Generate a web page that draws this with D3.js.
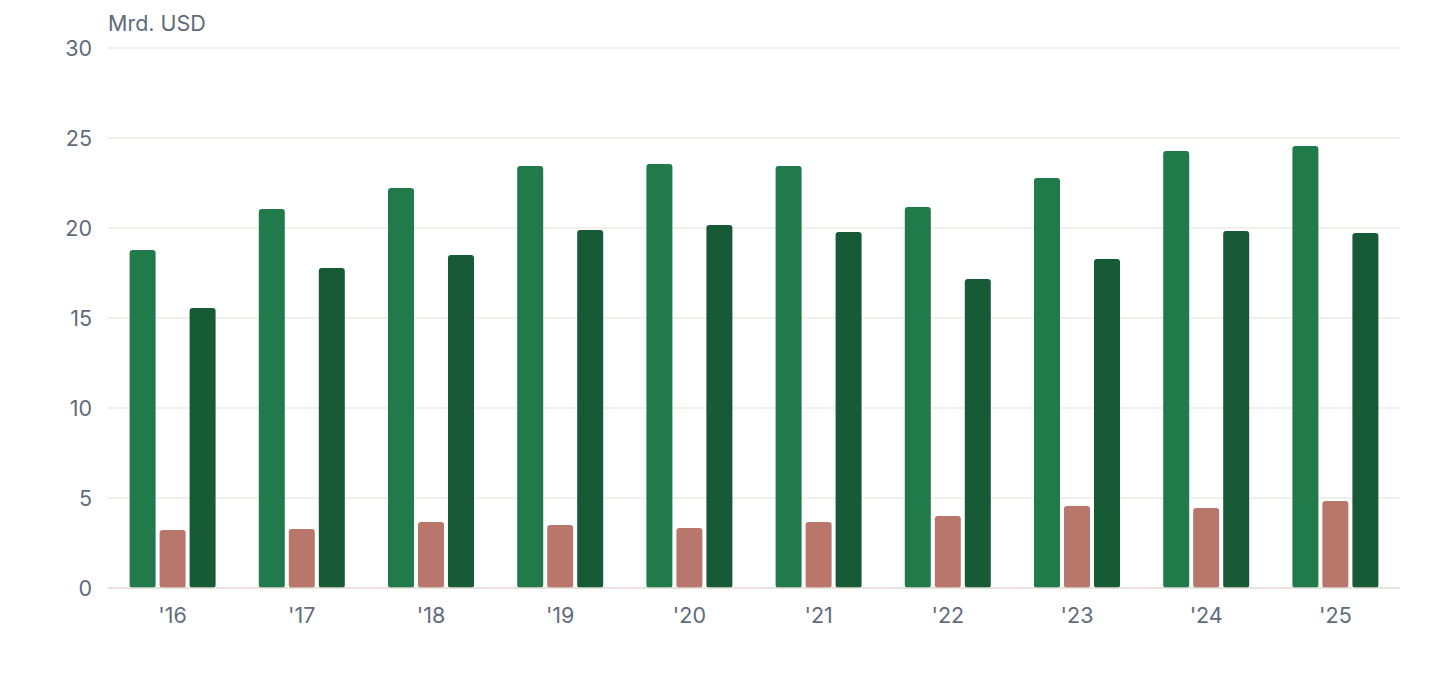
<!DOCTYPE html>
<html>
<head>
<meta charset="utf-8">
<script src="https://cdn.jsdelivr.net/npm/d3@7"></script>
<style>
  html, body { margin: 0; padding: 0; background: #fff; }
  svg text { font-family: Inter, "Noto Sans", sans-serif; }
</style>
</head>
<body>
<svg id="chart"></svg>
<script>
const years = ["'16", "'17", "'18", "'19", "'20", "'21", "'22", "'23", "'24", "'25"];
const seriesA = [18.78, 21.06, 22.22, 23.44, 23.56, 23.44, 21.17, 22.78, 24.28, 24.56];
const seriesB = [3.22, 3.28, 3.67, 3.5, 3.33, 3.67, 4.0, 4.56, 4.44, 4.83];
const seriesC = [15.56, 17.78, 18.5, 19.89, 20.17, 19.78, 17.17, 18.28, 19.83, 19.72];
const yTicks = [0, 5, 10, 15, 20, 25, 30];
const unitLabel = "Mrd. USD";

const colors = ["#217a4a", "#b8776a", "#175a36"];
const series = [seriesA, seriesB, seriesC];

const width = 1440, height = 680;
const margin = {top: 48, right: 40, bottom: 92, left: 108};
const fontSize = 21.5;

const svg = d3.select("#chart")
    .attr("width", width)
    .attr("height", height);

const x0 = d3.scaleBand()
    .domain(years)
    .range([margin.left, width - margin.right])
    .paddingInner(0.3344)
    .paddingOuter(0.1672);

const x1 = d3.scaleBand()
    .domain(d3.range(series.length))
    .range([0, x0.bandwidth()])
    .paddingInner(0.1333);

const y = d3.scaleLinear()
    .domain([0, 30])
    .range([height - margin.bottom, margin.top]);

// gridlines
svg.append("g")
    .selectAll("line")
    .data(yTicks.filter(d => d > 0))
    .enter()
    .append("line")
    .attr("x1", margin.left)
    .attr("x2", width - margin.right)
    .attr("y1", d => y(d))
    .attr("y2", d => y(d))
    .attr("stroke", "#ebebe6")
    .attr("stroke-width", 1.5);

// y labels
svg.append("g")
    .selectAll("text")
    .data(yTicks)
    .enter()
    .append("text")
    .attr("x", margin.left - 16)
    .attr("y", d => y(d))
    .attr("dy", "0.35em")
    .attr("text-anchor", "end")
    .attr("font-size", fontSize)
    .attr("fill", "#5f6b7a")
    .text(d => d);

svg.append("text")
    .attr("x", margin.left)
    .attr("y", 31)
    .attr("font-size", fontSize)
    .attr("fill", "#5f6b7a")
    .text(unitLabel);

// bars
const groups = svg.append("g")
    .selectAll("g")
    .data(years)
    .enter()
    .append("g")
    .attr("transform", d => "translate(" + x0(d) + ",0)");

groups.selectAll("rect")
    .data((d, i) => series.map((s, k) => ({k, v: s[i]})))
    .enter()
    .append("rect")
    .attr("x", d => x1(d.k))
    .attr("y", d => y(d.v))
    .attr("width", x1.bandwidth())
    .attr("height", d => y(0) - y(d.v))
    .attr("rx", 3)
    .attr("fill", d => colors[d.k]);

// baseline
svg.append("line")
    .attr("x1", margin.left)
    .attr("x2", width - margin.right)
    .attr("y1", y(0))
    .attr("y2", y(0))
    .attr("stroke", "#dcdacf")
    .attr("stroke-width", 1.5);

// x axis labels
svg.append("g")
    .selectAll("text")
    .data(years)
    .enter()
    .append("text")
    .attr("x", d => x0(d) + x0.bandwidth() / 2)
    .attr("y", 623)
    .attr("text-anchor", "middle")
    .attr("font-size", fontSize)
    .attr("fill", "#5f6b7a")
    .text(d => d);
</script>
</body>
</html>
